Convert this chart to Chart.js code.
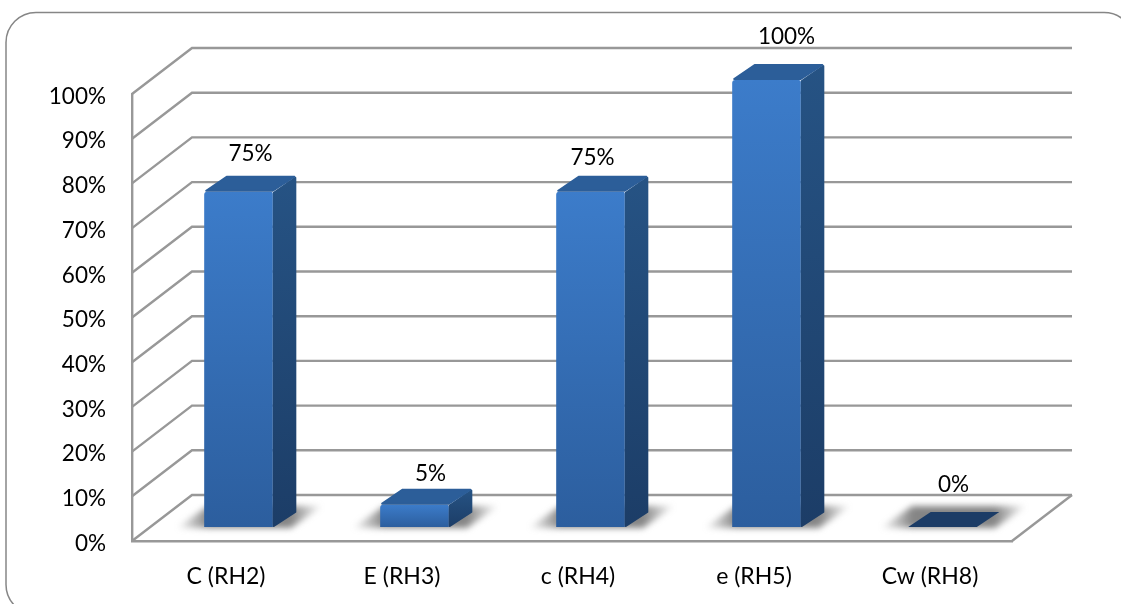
<!DOCTYPE html>
<html>
<head>
<meta charset="utf-8">
<title>Rh antigens</title>
<script src="https://cdn.jsdelivr.net/npm/chart.js@4"></script>
<style>
  html, body { margin: 0; padding: 0; background: #fff; overflow: hidden; }
  canvas { display: block; }
</style>
</head>
<body>
<canvas id="rhChart" width="1121" height="604"></canvas>
<script>
const categories = ['C (RH2)', 'E (RH3)', 'c (RH4)', 'e (RH5)', 'Cw (RH8)'];
const percentValues = [75, 5, 75, 100, 0];

// 3d look: how far the walls and the bars are pushed back from the axis plane
const wallDepth = { x: 60, y: 46 };
const barOffset = { x: 18.5, y: 14 };
const barDepth = { x: 22.5, y: 15 };
// value labels sit a bit unevenly above the bars, [dx, dy] from the bar front centre
const labelNudge = [[12, -38.5], [16, -30.5], [2, -34.5], [20, -43.5], [11, -42]];

const lineColor = '#989898';
const fontFamily = 'Lato, "Open Sans", sans-serif';

const facePath = (ctx, pts) => {
  ctx.beginPath();
  pts.forEach(([x, y], i) => (i ? ctx.lineTo(x, y) : ctx.moveTo(x, y)));
  ctx.closePath();
};

// filled face with slightly rounded corners
const fillFace = (ctx, pts, color) => {
  ctx.fillStyle = color;
  ctx.strokeStyle = color;
  ctx.lineWidth = 2;
  ctx.lineJoin = 'round';
  facePath(ctx, pts);
  ctx.fill();
  ctx.stroke();
};

const frontGradient = (context) => {
  const { chart, dataIndex } = context;
  const yScale = chart.scales.y;
  // scales are not ready on the first option pass
  if (dataIndex === undefined || !yScale || !chart.chartArea) return '#3470b4';
  const top = yScale.getPixelForValue(percentValues[dataIndex]);
  const bottom = yScale.getPixelForValue(0);
  if (!Number.isFinite(top) || !Number.isFinite(bottom)) return '#3470b4';
  const grad = chart.ctx.createLinearGradient(0, top, 0, bottom);
  grad.addColorStop(0, '#3c7cca');
  grad.addColorStop(1, '#2c5e9e');
  return grad;
};

// walls, floor and the soft shadows under the bars
const wallsPlugin = {
  id: 'walls',
  beforeDatasetsDraw(chart) {
    const { ctx, chartArea, scales } = chart;
    ctx.save();
    ctx.strokeStyle = lineColor;
    ctx.lineWidth = 2.4;
    scales.y.ticks.forEach((tick) => {
      const y = scales.y.getPixelForValue(tick.value);
      ctx.beginPath();
      ctx.moveTo(chartArea.left, y);
      ctx.lineTo(chartArea.left + wallDepth.x, y - wallDepth.y);
      ctx.lineTo(chartArea.right + wallDepth.x, y - wallDepth.y);
      ctx.stroke();
    });
    ctx.beginPath();
    ctx.moveTo(chartArea.right, chartArea.bottom);
    ctx.lineTo(chartArea.right + wallDepth.x, chartArea.bottom - wallDepth.y);
    ctx.stroke();

    const floorY = chartArea.bottom - barOffset.y;
    chart.getDatasetMeta(0).data.forEach((bar) => {
      const left = bar.x + barOffset.x - bar.width / 2;
      const right = left + bar.width;
      const grad = ctx.createLinearGradient(left - 28, 0, right + 50, 0);
      grad.addColorStop(0, 'rgba(120,120,120,0)');
      grad.addColorStop(0.22, 'rgba(120,120,120,0.9)');
      grad.addColorStop(0.78, 'rgba(120,120,120,0.9)');
      grad.addColorStop(1, 'rgba(120,120,120,0)');
      ctx.filter = 'blur(3px)';
      ctx.fillStyle = grad;
      facePath(ctx, [
        [left - 28, floorY + 1],
        [left + 4, floorY - 21],
        [right + 50, floorY - 21],
        [right + 18, floorY + 1],
      ]);
      ctx.fill();
      ctx.filter = 'none';
    });
    ctx.restore();
  },
  beforeDatasetDraw(chart) {
    chart.ctx.save();
    chart.ctx.translate(barOffset.x, -barOffset.y);
  },
  // side and top faces, the front face is the bar element itself
  afterDatasetDraw(chart) {
    const { ctx } = chart;
    chart.getDatasetMeta(0).data.forEach((bar, i) => {
      const left = bar.x - bar.width / 2;
      const right = bar.x + bar.width / 2;
      const { y, base } = bar;
      const dx = barDepth.x;
      const dy = barDepth.y;
      if (percentValues[i] === 0) {
        ctx.fillStyle = '#1c3c66';
        facePath(ctx, [[left, base], [left + dx, base - dy], [right + dx, base - dy], [right, base]]);
        ctx.fill();
        return;
      }
      const side = ctx.createLinearGradient(0, y - dy, 0, base);
      side.addColorStop(0, '#265384');
      side.addColorStop(1, '#1c3d67');
      fillFace(ctx, [[right + 1, y + 1], [right + dx, y - dy + 1], [right + dx, base - dy], [right + 1, base - 1]], side);
      fillFace(ctx, [[left + 2, y - 1], [left + dx, y - dy], [right + dx - 1, y - dy], [right, y - 1]], '#2c5e99');
    });
    ctx.restore();
  },
  afterDatasetsDraw(chart) {
    const { ctx } = chart;
    ctx.save();
    ctx.fillStyle = '#000';
    ctx.font = `22.5px ${fontFamily}`;
    ctx.textAlign = 'center';
    ctx.textBaseline = 'middle';
    chart.getDatasetMeta(0).data.forEach((bar, i) => {
      const [dx, dy] = labelNudge[i];
      ctx.fillText(`${percentValues[i]}%`, bar.x + barOffset.x + dx, bar.y - barOffset.y + dy);
    });
    ctx.restore();
  },
};

// rounded card around the chart, it runs off the right and bottom edges
const framePlugin = {
  id: 'frame',
  beforeDraw(chart) {
    const { ctx } = chart;
    ctx.save();
    ctx.strokeStyle = '#868686';
    ctx.lineWidth = 1.5;
    ctx.beginPath();
    ctx.roundRect(6, 12.5, 1128, 602, 30);
    ctx.stroke();
    ctx.restore();
  },
};

new Chart(document.getElementById('rhChart').getContext('2d'), {
  type: 'bar',
  data: {
    labels: categories,
    datasets: [
      {
        data: percentValues,
        backgroundColor: frontGradient,
        borderRadius: { topLeft: 3, topRight: 2 },
        borderSkipped: false,
        barPercentage: 0.78,
        categoryPercentage: 0.5,
        clip: false,
      },
    ],
  },
  options: {
    responsive: false,
    animation: false,
    layout: { padding: { top: 94, right: 109, bottom: 0, left: 0 } },
    plugins: { legend: { display: false }, tooltip: { enabled: false } },
    scales: {
      x: {
        grid: { display: false },
        border: { display: true, color: lineColor, width: 2.4 },
        afterFit: (scale) => { scale.height = 63; },
        ticks: {
          color: '#000',
          font: { family: fontFamily, size: 23 },
          padding: 14,
          labelOffset: 6,
          maxRotation: 0,
        },
      },
      y: {
        min: 0,
        max: 100,
        grid: { display: false },
        border: { display: true, color: lineColor, width: 2.4 },
        afterFit: (scale) => { scale.width = 132; },
        ticks: {
          stepSize: 10,
          color: '#000',
          font: { family: fontFamily, size: 22.5 },
          padding: 18,
          labelOffset: 2.5,
          callback: (value) => `${value}%`,
        },
      },
    },
  },
  plugins: [framePlugin, wallsPlugin],
});
</script>
</body>
</html>
